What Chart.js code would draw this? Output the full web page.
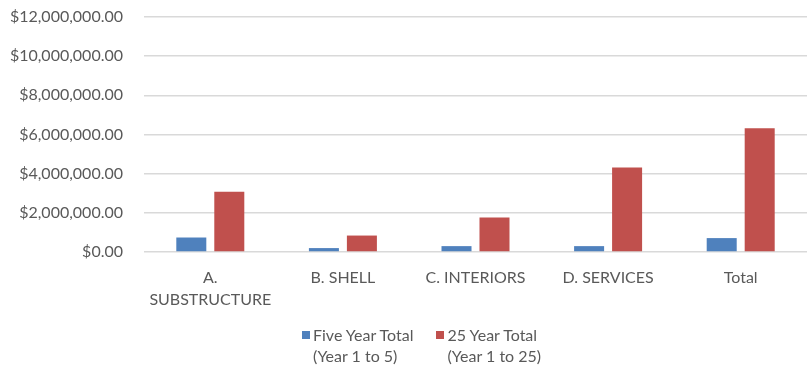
<!DOCTYPE html>
<html><head><meta charset="utf-8">
<script src="https://cdn.jsdelivr.net/npm/chart.js@4/dist/chart.umd.min.js"></script>
<style>
html,body{margin:0;padding:0;background:#fff;}
#wrap{position:relative;width:807px;height:371px;}
#legend{position:absolute;left:302px;top:324px;display:flex;font-family:Lato,"Open Sans",sans-serif;font-size:16px;color:#595959;line-height:21px;}
.item{display:flex;align-items:flex-start;margin-right:23px;}
.sw{width:8px;height:8px;margin-top:7px;margin-right:3px;}
</style></head>
<body><div id="wrap"><canvas id="c" width="807" height="371"></canvas><div id="legend"></div></div>
<script>
const categories = [["A.","SUBSTRUCTURE"],"B. SHELL","C. INTERIORS","D. SERVICES","Total"];
const seriesNames = [["Five Year Total","(Year 1 to 5)"],["25 Year Total","(Year 1 to 25)"]];
const fiveYear = [740000, 200000, 300000, 300000, 710000];
const twentyFiveYear = [3080000, 840000, 1760000, 4320000, 6320000];
const colors = ["#4f81bd","#c0504d"];

const fmt = v => "$" + Number(v).toLocaleString("en-US",{minimumFractionDigits:2,maximumFractionDigits:2});

new Chart(document.getElementById("c"), {
  type: "bar",
  data: {
    labels: categories,
    datasets: [
      {label: seriesNames[0].join(" "), data: fiveYear, backgroundColor: colors[0]},
      {label: seriesNames[1].join(" "), data: twentyFiveYear, backgroundColor: colors[1]}
    ]
  },
  options: {
    responsive: false, animation: false,
    layout: {padding: {top: 17, right: 0, left: 0, bottom: 0}},
    datasets: {bar: {categoryPercentage: 0.573, barPercentage: 0.79}},
    plugins: {legend: {display: false}, tooltip: {enabled: false}},
    scales: {
      x: {
        grid: {display: false},
        border: {display: false},
        ticks: {color: "#595959", font: {family: "Lato", size: 16, lineHeight: 1.35}, padding: 7, maxRotation: 0, autoSkip: false},
        afterFit: s => { s.height = 119; s.paddingLeft = 0; s.paddingRight = 0; }
      },
      y: {
        min: 0, max: 12000000,
        ticks: {stepSize: 2000000, color: "#595959", font: {family: "Lato", size: 16}, padding: 21, callback: v => fmt(v)},
        grid: {color: "#d9d9d9", lineWidth: 1.5, drawTicks: false},
        border: {display: false},
        afterFit: s => { s.width = 144; s.paddingTop = 0; s.paddingBottom = 0; }
      }
    }
  }
});

const lg = document.getElementById("legend");
seriesNames.forEach((n,i) => {
  const it = document.createElement("div"); it.className = "item";
  const sw = document.createElement("div"); sw.className = "sw"; sw.style.background = colors[i];
  const tx = document.createElement("div"); tx.innerHTML = n.join("<br>");
  it.appendChild(sw); it.appendChild(tx); lg.appendChild(it);
});
</script></body></html>
